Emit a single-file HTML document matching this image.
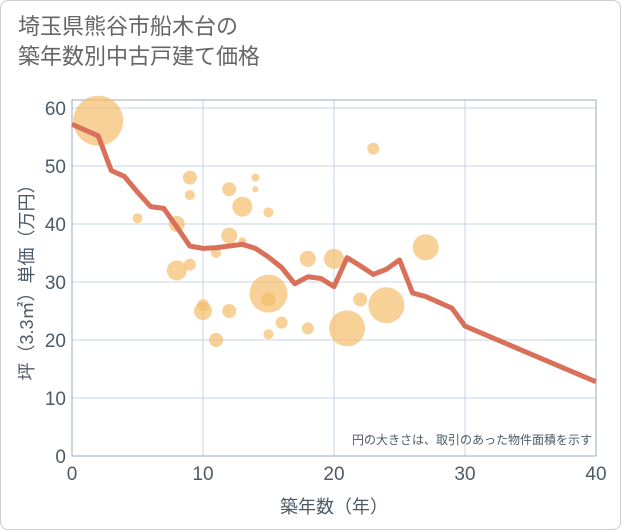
<!DOCTYPE html>
<html><head><meta charset="utf-8"><style>
body{margin:0;background:#fff;}
#card{position:absolute;left:0;top:0;width:619px;height:528px;border:1px solid #ccc;border-radius:8px;background:#fff;}
#title{position:absolute;left:18px;top:12px;font:22px/30px "Liberation Sans","Noto Sans CJK JP",sans-serif;color:#666;}
svg text{font-family:"Liberation Sans","Noto Sans CJK JP",sans-serif;fill:#4d5a68;}
</style></head><body>
<div id="card"></div>
<div id="title">埼玉県熊谷市船木台の<br>築年数別中古戸建て価格</div>
<svg id="chart" width="621" height="530" style="position:absolute;left:0;top:0"></svg>
<script>
const xTicks=[0,10,20,30,40];
const yTicks=[0,10,20,30,40,50,60];
const bubbleX=[2,9,9,5,8,12,14,14,13,15,12,13,11,9,8,18,20,23,27,15,15,10,10,12,22,24,21,16,18,15,11];
const bubbleY=[57.8,48,45,41,40,46,48,46,43,42,38,37,35,33,32,34,34,53,36,28,27,26,25,25,27,26,22,23,22,21,20];
const bubbleR=[25,7,5,5,8,7,4,3,10,5,8,4,5,6,10,8,10,6,13,19,7,6,9,7,7,18,18,6,6,5,7];
const lineX=[0,1,2,3,4,5,6,7,8,9,10,11,12,13,14,15,16,17,18,19,20,21,22,23,24,25,26,27,28,29,30,40];
const lineY=[57.2,56.2,55.2,49.2,48.2,45.5,43,42.7,39.5,36.2,35.8,35.9,36.2,36.5,35.8,34.3,32.5,29.7,30.9,30.6,29.2,34.2,32.8,31.3,32.2,33.8,28.1,27.5,26.5,25.5,22.4,12.8];
const NS='http://www.w3.org/2000/svg';
const svg=document.getElementById('chart');
const L=72,R=596,T=100,B=456;
const sx=v=>L+(v-0)/40*(R-L);
const sy=v=>B-v/60*(B-108);
function mk(tag,attrs,parent){const e=document.createElementNS(NS,tag);for(const k in attrs)e.setAttribute(k,attrs[k]);(parent||svg).appendChild(e);return e;}
const grid=mk('g',{});


yTicks.forEach(v=>{
  const l=mk('line',{x1:L,x2:R,y1:sy(v),y2:sy(v),stroke:'#c8d4e3','stroke-width':1},grid);
  
  
  const t=mk('text',{x:L-6,y:sy(v)+7,'text-anchor':'end','font-size':19});
  t.textContent=v;
  
  
});
xTicks.forEach(v=>{
  const l=mk('line',{x1:sx(v),x2:sx(v),y1:T,y2:B,stroke:'#c8d4e3','stroke-width':1},grid);
  
  
  const t=mk('text',{x:sx(v),y:B+24,'text-anchor':'middle','font-size':19});
  t.textContent=v;
  
  
});
const frame=mk('rect',{x:L,y:T,width:R-L,height:B-T,fill:'none',stroke:'#9aa8b8','stroke-width':1});


bubbleX.forEach((v,i)=>{
  const c=mk('circle',{cx:sx(v),cy:sy(bubbleY[i]),r:bubbleR[i],fill:'#f3be6b','fill-opacity':0.7});
  
  
});
const p=mk('polyline',{points:lineX.map((v,i)=>sx(v)+','+sy(lineY[i])).join(' '),fill:'none',stroke:'#d9705a','stroke-width':5,'stroke-linejoin':'round'});


const note=mk('text',{x:592,y:444,'text-anchor':'end','font-size':12});
note.textContent='円の大きさは、取引のあった物件面積を示す';


const xt=mk('text',{x:334,y:513,'text-anchor':'middle','font-size':18});
xt.textContent='築年数（年）';


const yt=mk('text',{x:0,y:0,'text-anchor':'middle','font-size':18,transform:'translate(33,278) rotate(-90)'});
yt.textContent='坪（3.3㎡）単価（万円）';


</script>
</body></html>
